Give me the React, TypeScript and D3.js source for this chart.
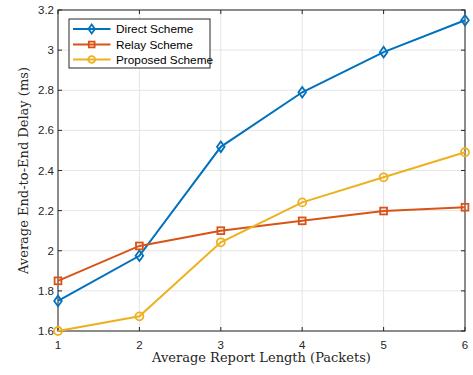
import React from "react";
import * as d3 from "d3";

const xValues = [1, 2, 3, 4, 5, 6];
const directScheme = [1.75, 1.975, 2.518, 2.79, 2.99, 3.149];
const relayScheme = [1.85, 2.024, 2.1, 2.149, 2.198, 2.217];
const proposedScheme = [1.6, 1.673, 2.042, 2.241, 2.366, 2.491];
const xTicks = [1, 2, 3, 4, 5, 6];
const yTicks = [1.6, 1.8, 2, 2.2, 2.4, 2.6, 2.8, 3, 3.2];
const seriesNames = ["Direct Scheme", "Relay Scheme", "Proposed Scheme"];

const W = 473;
const H = 375;
const M = { left: 58, right: 465, top: 10, bottom: 331 };
const colors = ["#0072BD", "#D95319", "#EDB120"];

function Marker({ type, x, y, color, s = 1 }: { type: string; x: number; y: number; color: string; s?: number }) {
  if (type === "diamond") {
    const w = 3.8 * s, h = 5.3 * s;
    return (
      <path
        d={`M${x},${y - h}L${x + w},${y}L${x},${y + h}L${x - w},${y}Z`}
        fill="none"
        stroke={color}
        strokeWidth={1.8}
      />
    );
  }
  if (type === "square") {
    const a = 3.4 * s;
    return <rect x={x - a} y={y - a} width={2 * a} height={2 * a} fill="none" stroke={color} strokeWidth={1.8} />;
  }
  return <circle cx={x} cy={y} r={4 * s} fill="none" stroke={color} strokeWidth={1.8} />;
}

export default function App() {
  const x = d3.scaleLinear().domain([1, 6]).range([M.left, M.right]);
  const y = d3.scaleLinear().domain([1.6, 3.2]).range([M.bottom, M.top]);
  const series = [directScheme, relayScheme, proposedScheme];
  const markers = ["diamond", "square", "circle"];
  const line = d3
    .line<number>()
    .x((_, i) => x(xValues[i]))
    .y((d) => y(d));
  const tickFont = "'Liberation Sans', Arial, sans-serif";
  const serif = "'DejaVu Serif', 'Liberation Serif', serif";
  const lg = { x: 69, y: 19, w: 141, h: 49 };
  const rowY = [29, 44.5, 59.5];

  return (
    <svg width={W} height={H} style={{ position: "absolute", left: 0, top: 0, background: "#fff" }}>
      <rect x={0} y={0} width={W} height={H} fill="#fff" />
      {/* grid */}
      {xTicks.map((t) => (
        <line key={"gx" + t} x1={x(t)} x2={x(t)} y1={M.top} y2={M.bottom} stroke="#e5e5e5" strokeWidth={1} />
      ))}
      {yTicks.map((t) => (
        <line key={"gy" + t} x1={M.left} x2={M.right} y1={y(t)} y2={y(t)} stroke="#e5e5e5" strokeWidth={1} />
      ))}
      {/* axes box */}
      <rect x={M.left} y={M.top} width={M.right - M.left} height={M.bottom - M.top} fill="none" stroke="#262626" strokeWidth={1} />
      {/* ticks */}
      {xTicks.map((t) => (
        <g key={"tx" + t}>
          <line x1={x(t)} x2={x(t)} y1={M.bottom} y2={M.bottom - 4} stroke="#262626" />
          <line x1={x(t)} x2={x(t)} y1={M.top} y2={M.top + 4} stroke="#262626" />
          <text x={x(t)} y={M.bottom + 18} textAnchor="middle" fontFamily={tickFont} fontSize={11.5} fill="#262626">
            {t}
          </text>
        </g>
      ))}
      {yTicks.map((t) => (
        <g key={"ty" + t}>
          <line x1={M.left} x2={M.left + 4} y1={y(t)} y2={y(t)} stroke="#262626" />
          <line x1={M.right} x2={M.right - 4} y1={y(t)} y2={y(t)} stroke="#262626" />
          <text x={M.left - 4} y={y(t) + 4} textAnchor="end" fontFamily={tickFont} fontSize={11.5} fill="#262626">
            {d3.format("~g")(t)}
          </text>
        </g>
      ))}
      {/* lines */}
      {series.map((s, i) => (
        <g key={"s" + i}>
          <path d={line(s) || ""} fill="none" stroke={colors[i]} strokeWidth={2} />
          {s.map((v, j) => (
            <Marker key={j} type={markers[i]} x={x(xValues[j])} y={y(v)} color={colors[i]} />
          ))}
        </g>
      ))}
      {/* labels */}
      <text x={(M.left + M.right) / 2} y={362} textAnchor="middle" fontFamily={serif} fontSize={13} fill="#262626">
        Average Report Length (Packets)
      </text>
      <text
        transform={`translate(28,${(M.top + M.bottom) / 2}) rotate(-90)`}
        textAnchor="middle"
        fontFamily={serif}
        fontSize={13}
        fill="#262626"
      >
        Average End-to-End Delay (ms)
      </text>
      {/* legend */}
      <rect x={lg.x} y={lg.y} width={lg.w} height={lg.h} fill="#fff" stroke="#262626" strokeWidth={1} />
      {seriesNames.map((n, i) => {
        const ly = rowY[i];
        return (
          <g key={"l" + i}>
            <line x1={lg.x + 4} x2={lg.x + 41.5} y1={ly} y2={ly} stroke={colors[i]} strokeWidth={2} />
            <Marker type={markers[i]} x={lg.x + 22.7} y={ly} color={colors[i]} s={0.85} />
            <text x={lg.x + 47} y={ly + 4} fontFamily={tickFont} fontSize={11.8} fill="#000">
              {n}
            </text>
          </g>
        );
      })}
    </svg>
  );
}
